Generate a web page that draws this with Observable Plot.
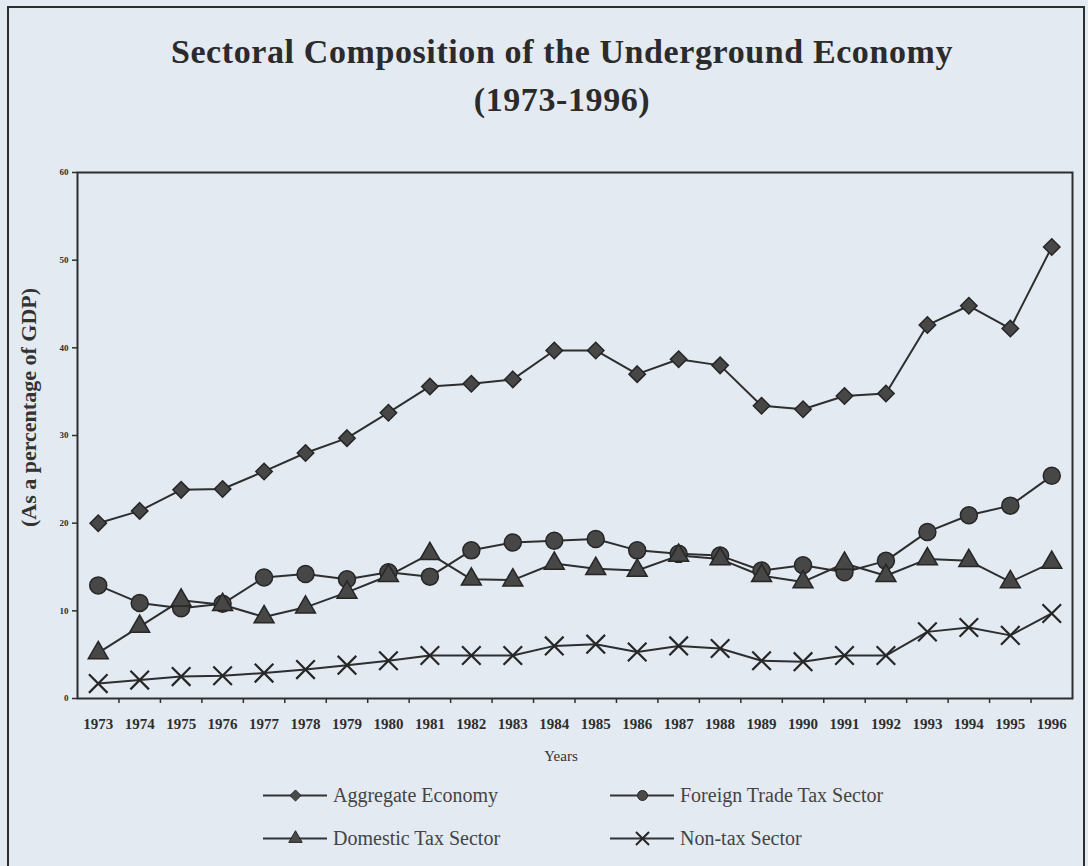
<!DOCTYPE html>
<html>
<head>
<meta charset="utf-8">
<script src="https://cdn.jsdelivr.net/npm/d3@7"></script>
<script src="https://cdn.jsdelivr.net/npm/@observablehq/plot@0.6"></script>
<style>
  html, body { margin: 0; padding: 0; }
  body { width: 1088px; height: 866px; overflow: hidden; position: relative; background: #e3eaf2; font-family: "Liberation Serif", "DejaVu Serif", serif; color: #2e2e2e; }
  #border { position: absolute; left: 7px; top: 6px; width: 1078px; height: 900px; border: 2px solid #2e2e2e; box-sizing: border-box; }
  #title { position: absolute; left: 0; top: 28px; width: 1124px; text-align: center; font-weight: bold; font-size: 34px; line-height: 48px; letter-spacing: 0.6px; color: #2b2b2b; }
  #chart { position: absolute; left: 0; top: 150px; }
  .leg { position: absolute; display: flex; align-items: center; font-size: 20px; color: #444; }
  .leg svg { display: block; margin-right: 6px; }
</style>
</head>
<body>
<div id="border"></div>
<div id="title">Sectoral Composition of the Underground Economy<br>(1973-1996)</div>
<div id="chart"></div>
<div id="legend"></div>
<script>
const years = [1973,1974,1975,1976,1977,1978,1979,1980,1981,1982,1983,1984,1985,1986,1987,1988,1989,1990,1991,1992,1993,1994,1995,1996];
const aggregate = [20.0,21.4,23.8,23.9,25.9,28.0,29.7,32.6,35.6,35.9,36.4,39.7,39.7,37.0,38.7,38.0,33.4,33.0,34.5,34.8,42.6,44.8,42.2,51.5];
const foreignTrade = [12.9,10.9,10.3,10.8,13.8,14.2,13.6,14.4,13.9,16.9,17.8,18.0,18.2,16.9,16.5,16.3,14.6,15.2,14.4,15.7,19.0,20.9,22.0,25.4];
const domestic = [5.2,8.2,11.2,10.7,9.3,10.4,12.1,14.0,16.5,13.6,13.5,15.4,14.8,14.6,16.3,15.9,14.0,13.3,15.4,14.0,15.9,15.7,13.3,15.5];
const nonTax = [1.7,2.1,2.5,2.6,2.9,3.3,3.8,4.3,4.9,4.9,4.9,6.0,6.2,5.3,6.0,5.7,4.3,4.2,4.9,4.9,7.6,8.1,7.2,9.7];
const seriesNames = ["Aggregate Economy","Foreign Trade Tax Sector","Domestic Tax Sector","Non-tax Sector"];
const seriesSymbols = ["diamond2","circle","triangle","times"];
const yTicks = [0,10,20,30,40,50,60];
const xLabel = "Years";
const yLabel = "(As a percentage of GDP)";

const seriesValues = [aggregate, foreignTrade, domestic, nonTax];
const data = seriesValues.flatMap((vals, i) => vals.map((v, j) => ({year: years[j], value: v, name: seriesNames[i]})));
const bounds = years.slice(0, -1).map(y => y + 0.5);
const symbolSize = {"diamond2": 7.4, "circle": 8.5, "triangle": 7.4, "times": 8.5};

function dotMark(d, sym, r) {
  const filled = sym !== "times";
  return Plot.dot(d, {
    x: "year", y: "value", symbol: () => sym, r,
    fill: filled ? "#474747" : "none",
    stroke: "#262626",
    strokeWidth: filled ? 1.5 : 2.2
  });
}

const chart = Plot.plot({
  width: 1088,
  height: 640,
  marginLeft: 77,
  marginRight: 16,
  marginTop: 22,
  marginBottom: 92,
  style: {background: "transparent", fontFamily: "Liberation Serif, serif", color: "#2e2e2e"},
  x: {domain: [1972.5, 1996.5]},
  y: {domain: [0, 60]},
  symbol: {domain: seriesSymbols, range: seriesSymbols},
  marks: [
    Plot.frame({stroke: "#2e2e2e", strokeWidth: 2}),
    Plot.axisY({ticks: yTicks, tickSize: 5, tickPadding: 4, fontSize: 9, fontWeight: "bold", label: null, strokeWidth: 1.5}),
    Plot.axisX({ticks: years, tickSize: 0, tickPadding: 20, fontSize: 15, fontWeight: "bold", tickFormat: d => String(d), label: null}),
    Plot.axisX({ticks: bounds, tickSize: 5, tickFormat: () => "", label: null, strokeWidth: 1.5}),
    Plot.text([xLabel], {frameAnchor: "bottom", dy: 62, dx: -14, fontSize: 15, fill: "#333"}),
    Plot.text([yLabel], {frameAnchor: "left", textAnchor: "middle", dx: -49, dy: -28, rotate: -90, fontSize: 22, fontWeight: "bold", fill: "#333"}),
    Plot.line(data, {x: "year", y: "value", z: "name", stroke: "#2e2e2e", strokeWidth: 2}),
    ...seriesNames.map((n, i) => dotMark(data.filter(d => d.name === n), seriesSymbols[i], symbolSize[seriesSymbols[i]]))
  ]
});
document.getElementById("chart").appendChild(chart);

// legend
const legPos = [[263, 783], [610, 783], [263, 826], [610, 826]];
const legOrder = [0, 1, 2, 3];
const legend = document.getElementById("legend");
legOrder.forEach((si, k) => {
  const item = document.createElement("div");
  item.className = "leg";
  item.style.left = legPos[k][0] + "px";
  item.style.top = legPos[k][1] + "px";
  const sym = seriesSymbols[si];
  const filled = sym !== "times";
  const sw = Plot.plot({
    width: 64, height: 24, margin: 0,
    style: {background: "transparent"},
    x: {domain: [0, 1], axis: null},
    y: {domain: [0, 1], axis: null},
    marks: [
      Plot.ruleY([0.5], {stroke: "#333", strokeWidth: 2}),
      Plot.dot([0.5], {x: d => d, y: () => 0.5, symbol: () => sym, r: sym === "times" ? 6 : 5,
        fill: filled ? "#4a4a4a" : "none", stroke: "#262626", strokeWidth: filled ? 1 : 2})
    ]
  });
  item.appendChild(sw);
  const t = document.createElement("span");
  t.textContent = seriesNames[si];
  item.appendChild(t);
  legend.appendChild(item);
});
</script>
</body>
</html>
